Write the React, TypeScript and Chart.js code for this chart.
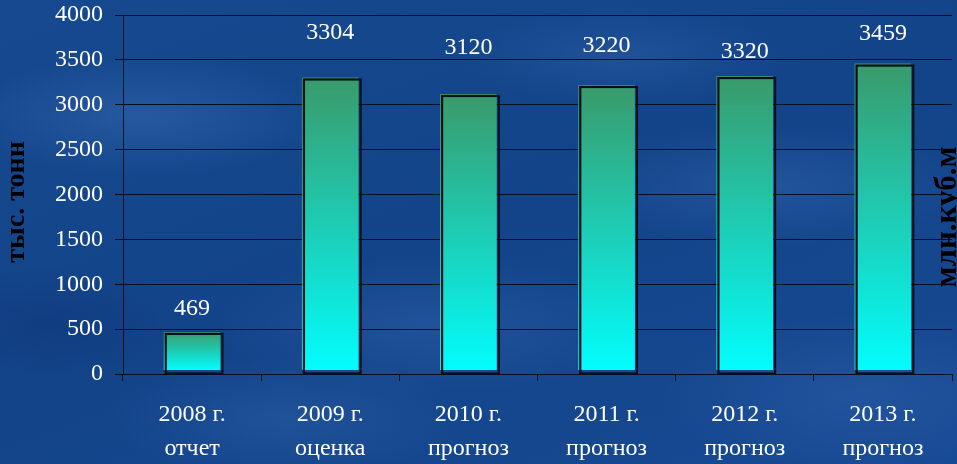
import React, { useEffect, useRef } from 'react';
import { Chart, registerables } from 'chart.js';

Chart.register(...registerables);

const years = ['2008 г.', '2009 г.', '2010 г.', '2011 г.', '2012 г.', '2013 г.'];
const kinds = ['отчет', 'оценка', 'прогноз', 'прогноз', 'прогноз', 'прогноз'];
const values = [469, 3304, 3120, 3220, 3320, 3459];
const yMin = 0;
const yMax = 4000;
const yStep = 500;
const leftTitle = 'тыс. тонн';
const rightTitle = 'млн.куб.м';

// label lift above bar top (pixels) — style only
const labelLift = [23, 45, 46, 39, 24, 30];

const SERIF = '"Liberation Serif", "Times New Roman", serif';

const decoPlugin = {
  id: 'deco',
  afterDatasetsDraw(chart: any) {
    const ctx = chart.ctx;
    const meta = chart.getDatasetMeta(0);
    ctx.save();
    meta.data.forEach((bar: any, i: number) => {
      const { x, y, base, width } = bar.getProps(['x', 'y', 'base', 'width'], true);
      ctx.strokeStyle = '#06101c';
      ctx.lineWidth = 2.2;
      ctx.strokeRect(x - width / 2 + 2, y + 2, width, base - y - 2);
      ctx.fillStyle = '#ffffff';
      ctx.font = `24px ${SERIF}`;
      ctx.textAlign = 'center';
      ctx.textBaseline = 'middle';
      ctx.fillText(String(values[i]), x, y - labelLift[i]);
    });
    ctx.restore();
  },
  afterDraw(chart: any) {
    const ctx = chart.ctx;
    ctx.save();
    ctx.fillStyle = '#000000';
    ctx.textAlign = 'center';
    ctx.textBaseline = 'alphabetic';
    ctx.font = `bold 28px ${SERIF}`;
    ctx.translate(24, 202);
    ctx.rotate(-Math.PI / 2);
    ctx.fillText(leftTitle, 0, 0);
    ctx.restore();
    ctx.save();
    ctx.fillStyle = '#000000';
    ctx.textAlign = 'center';
    ctx.textBaseline = 'alphabetic';
    ctx.font = `bold 31px ${SERIF}`;
    ctx.translate(956, 217);
    ctx.rotate(-Math.PI / 2);
    ctx.fillText(rightTitle, 0, 0);
    ctx.restore();
  },
};

export default function App() {
  const ref = useRef<HTMLCanvasElement | null>(null);

  useEffect(() => {
    if (!ref.current) return;
    const chart = new Chart(ref.current, {
      type: 'bar',
      data: {
        labels: years.map((y, i) => [y, kinds[i]]),
        datasets: [
          {
            data: values,
            borderWidth: 0,
            barPercentage: 0.41,
            categoryPercentage: 1,
            backgroundColor: (c: any) => {
              const chart = c.chart;
              const ys = chart.scales && chart.scales.y;
              if (!ys || c.dataIndex == null) return '#20c8b8';
              const top = ys.getPixelForValue(values[c.dataIndex]);
              const bottom = ys.getPixelForValue(0);
              const h = bottom - top;
              if (!(h > 5)) return '#20c8b8';
              const g = chart.ctx.createLinearGradient(0, top, 0, bottom);
              const cut = (h - 4) / h;
              g.addColorStop(0, '#3a9a6a');
              g.addColorStop(cut, '#02fdfd');
              g.addColorStop(Math.min(1, cut + 0.001), 'rgba(0,0,0,0)');
              g.addColorStop(1, 'rgba(0,0,0,0)');
              return g;
            },
          },
        ],
      },
      options: {
        responsive: false,
        animation: false,
        layout: { padding: { left: 0, right: 5, top: 15, bottom: 0 } },
        plugins: {
          legend: { display: false },
          tooltip: { enabled: false },
        },
        scales: {
          x: {
            grid: {
              offset: true,
              drawOnChartArea: false,
              drawTicks: true,
              tickLength: 7,
              color: '#06101c',
            },
            border: { color: '#06101c', width: 1 },
            ticks: {
              color: '#ffffff',
              font: { family: SERIF, size: 24, lineHeight: 1.45 },
              padding: 16,
              maxRotation: 0,
              autoSkip: false,
            },
            afterFit: (s: any) => {
              s.height = 90;
              s.paddingLeft = 0;
              s.paddingRight = 0;
            },
          },
          y: {
            min: yMin,
            max: yMax,
            grid: {
              color: '#06101c',
              lineWidth: 1,
              tickLength: 8,
            },
            border: { color: '#06101c', width: 1 },
            ticks: {
              stepSize: yStep,
              color: '#ffffff',
              font: { family: SERIF, size: 24 },
              padding: 12,
              callback: (v: any) => String(v),
            },
            afterFit: (s: any) => {
              s.width = 123;
              s.paddingTop = 0;
              s.paddingBottom = 0;
            },
          },
        },
      },
      plugins: [decoPlugin],
    } as any);
    return () => chart.destroy();
  }, []);

  return (
    <div
      style={{
        position: 'fixed',
        left: 0,
        top: 0,
        width: 957,
        height: 464,
        overflow: 'hidden',
        background: [
          'radial-gradient(ellipse 180px 60px at 15% 25%, rgba(80,130,205,0.3), transparent)',
          'radial-gradient(ellipse 220px 70px at 45% 70%, rgba(80,130,205,0.22), transparent)',
          'radial-gradient(ellipse 200px 60px at 80% 40%, rgba(80,130,205,0.25), transparent)',
          'radial-gradient(ellipse 160px 50px at 65% 12%, rgba(80,130,205,0.2), transparent)',
          'radial-gradient(ellipse 180px 60px at 30% 90%, rgba(80,130,205,0.2), transparent)',
          'radial-gradient(ellipse 200px 80px at 90% 85%, rgba(80,130,205,0.2), transparent)',
          'radial-gradient(ellipse 150px 60px at 5% 70%, rgba(10,40,110,0.3), transparent)',
          'linear-gradient(160deg, #16498f 0%, #134489 50%, #174a94 100%)',
        ].join(', '),
      }}
    >
      <canvas ref={ref} width={957} height={464} />
    </div>
  );
}
